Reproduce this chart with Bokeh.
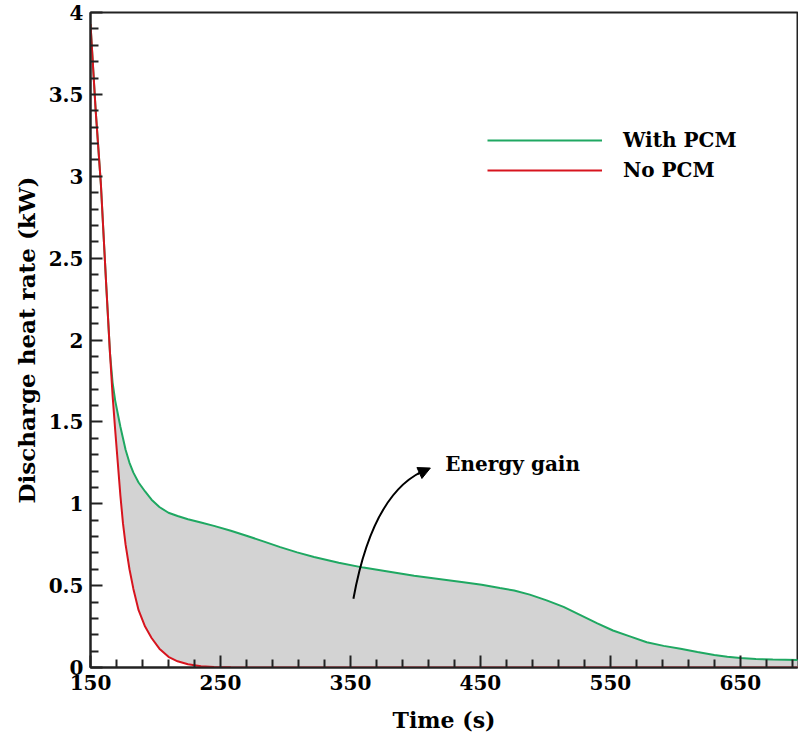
from bokeh.plotting import figure
from bokeh.models import (Range1d, FixedTicker, Legend, LegendItem, Arrow,
                          NormalHead, ColumnDataSource)
from bokeh.core.properties import value
from bokeh.embed import file_html
from bokeh.resources import INLINE

# ---- data ----
time_s = [150, 154, 158, 162, 165, 167, 169, 171, 173, 175, 177, 180, 183,
          187, 192, 197, 203, 210, 217, 225, 235, 245, 258, 270, 283, 296,
          309, 322, 341, 360, 380, 399, 418, 437, 451, 465, 476, 488, 501,
          514, 527, 540, 552, 565, 578, 591, 604, 617, 630, 640, 650, 662,
          675, 697]
with_pcm = [3.93, 3.40, 2.95, 2.35, 1.92, 1.74, 1.63, 1.55, 1.47, 1.40, 1.33,
            1.25, 1.19, 1.13, 1.075, 1.025, 0.98, 0.945, 0.925, 0.905, 0.885,
            0.865, 0.835, 0.805, 0.77, 0.735, 0.703, 0.675, 0.64, 0.61, 0.585,
            0.56, 0.54, 0.52, 0.505, 0.485, 0.47, 0.445, 0.41, 0.37, 0.32,
            0.27, 0.226, 0.19, 0.154, 0.132, 0.114, 0.095, 0.077, 0.066,
            0.058, 0.052, 0.049, 0.046]
no_pcm = [3.93, 3.40, 2.95, 2.35, 1.92, 1.66, 1.45, 1.25, 1.05, 0.88, 0.75,
          0.60, 0.48, 0.35, 0.25, 0.18, 0.115, 0.065, 0.038, 0.02, 0.008,
          0.003, 0.001, 0.0, 0.0, 0.0, 0.0, 0.0, 0.0, 0.0, 0.0, 0.0, 0.0, 0.0,
          0.0, 0.0, 0.0, 0.0, 0.0, 0.0, 0.0, 0.0, 0.0, 0.0, 0.0, 0.0, 0.0,
          0.0, 0.0, 0.0, 0.0, 0.0, 0.0, 0.0]

x_major_ticks = [150, 250, 350, 450, 550, 650]
x_minor_ticks = [170, 190, 210, 230, 270, 290, 310, 330, 370, 390, 410, 430,
                 470, 490, 510, 530, 570, 590, 610, 630, 670, 690]
y_major_ticks = [0, 0.5, 1, 1.5, 2, 2.5, 3, 3.5, 4]
y_tick_labels = ["0", "0.5", "1", "1.5", "2", "2.5", "3", "3.5", "4"]
y_minor_ticks = [round(0.1 * i, 1) for i in range(41) if i % 5 != 0]

series_names = ["With PCM", "No PCM"]
annotation_text = "Energy gain"

# ---- styles ----
FONT = "DejaVu Serif"
GREEN = "#1fa862"
RED = "#d7141e"
FILL = "#d3d3d3"
DARK = "#222222"

p = figure(width=798, height=740, output_backend="svg", toolbar_location=None,
           x_range=Range1d(150, 694), y_range=Range1d(0, 4),
           min_border_left=90, min_border_top=12, min_border_right=1,
           min_border_bottom=73)

p.xgrid.visible = False
p.ygrid.visible = False
p.outline_line_color = DARK
p.outline_line_width = 2
p.background_fill_color = "white"

src = ColumnDataSource(dict(t=time_s, w=with_pcm, n=no_pcm))
p.varea(x="t", y1="n", y2="w", source=src, fill_color=FILL)
r_with = p.line("t", "w", source=src, line_color=GREEN, line_width=2)
r_no = p.line("t", "n", source=src, line_color=RED, line_width=2)

# axes
for ax in (p.xaxis[0], p.yaxis[0]):
    ax.major_tick_in = 12
    ax.major_tick_out = 0
    ax.minor_tick_in = 8
    ax.minor_tick_out = 0
    ax.axis_line_width = 2
    ax.axis_line_color = DARK
    ax.major_tick_line_width = 2
    ax.minor_tick_line_width = 2
    ax.major_tick_line_color = DARK
    ax.minor_tick_line_color = DARK
    ax.major_label_text_font = FONT
    ax.major_label_text_font_style = "bold"
    ax.major_label_text_font_size = "20px"
    ax.major_label_text_color = "black"
    ax.axis_label_text_font = FONT
    ax.axis_label_text_font_style = "bold"
    ax.axis_label_text_color = "black"
    ax.major_label_standoff = 7

p.xaxis.axis_label_text_font_size = "22px"
p.yaxis.axis_label_text_font_size = "23px"
p.xaxis.ticker = FixedTicker(ticks=x_major_ticks, minor_ticks=x_minor_ticks)
p.yaxis.ticker = FixedTicker(ticks=y_major_ticks, minor_ticks=y_minor_ticks)
p.yaxis.major_label_overrides = {t: l for t, l in zip(y_major_ticks, y_tick_labels)}
p.xaxis.axis_label = "Time (s)"
p.yaxis.axis_label = "Discharge heat rate (kW)"
p.xaxis.axis_label_standoff = 14
p.yaxis.axis_label_standoff = 6

# legend
legend = Legend(items=[LegendItem(label=series_names[0], renderers=[r_with]),
                       LegendItem(label=series_names[1], renderers=[r_no])],
                location=(397, 485), glyph_width=115, glyph_height=20,
                label_height=20, label_standoff=21, spacing=6, padding=0,
                margin=0, border_line_alpha=0, background_fill_alpha=0,
                label_text_font=FONT, label_text_font_style="bold",
                label_text_font_size="20px", label_text_color="black")
p.add_layout(legend)

# "Energy gain" annotation with curved arrow
ax0, ay0 = 352.3, 0.42
acx, acy = 367.7, 1.09
ax1, ay1 = 410.0, 1.213
p.quadratic(x0=[ax0], y0=[ay0], x1=[ax1], y1=[ay1], cx=[acx], cy=[acy],
            line_color="black", line_width=2)
tt = 0.9
bx = (1 - tt) ** 2 * ax0 + 2 * (1 - tt) * tt * acx + tt ** 2 * ax1
by = (1 - tt) ** 2 * ay0 + 2 * (1 - tt) * tt * acy + tt ** 2 * ay1
p.add_layout(Arrow(end=NormalHead(size=12, fill_color="black", line_color="black"),
                   x_start=bx, y_start=by, x_end=ax1 + 1.5, y_end=ay1 + 0.005,
                   line_color="black", line_width=2))
p.text(x=[423], y=[1.244], text=[annotation_text], text_font=value(FONT),
       text_font_style="bold", text_font_size="20px", text_baseline="middle",
       text_align="left", text_color="black")

open("out.html", "w").write(file_html(p, INLINE))
